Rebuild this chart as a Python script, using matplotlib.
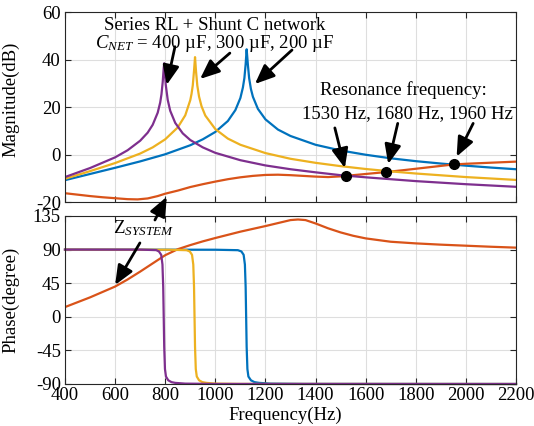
import numpy as np
import matplotlib
matplotlib.use('Agg')
import matplotlib.pyplot as plt

# ---------------- Données ----------------
# Amplitude (dB) des réseaux RL série + C shunt
f_400u = [400, 500, 600, 650, 700, 730, 750, 770, 780, 785, 790, 794, 796, 798, 802, 810, 820,
          840, 870, 900, 950, 1000, 1100, 1200, 1300, 1400, 1500, 1600, 1800, 2000, 2200]
mag_400u = [-9.5, -5.7, -1.2, 1.8, 5.8, 9.2, 12.5, 17.6, 21.9, 25.3, 30.5, 36.4, 38.4, 35.8, 29.5, 23.0, 18.4,
            13.3, 8.9, 6.1, 3.0, 0.7, -2.4, -4.6, -6.2, -7.5, -8.7, -9.6, -11.2, -12.5, -13.6]

f_300u = [400, 500, 600, 700, 750, 800, 850, 880, 900, 905, 910, 915, 919, 923, 928, 935, 945,
          960, 1000, 1050, 1100, 1200, 1300, 1400, 1500, 1600, 1700, 1800, 2000, 2200]
mag_300u = [-10.2, -7.0, -3.6, 0.4, 3.0, 6.4, 11.4, 16.5, 22.9, 25.5, 29.1, 35.3, 41.0, 35.0, 29.1, 24.4, 20.3,
            16.4, 10.7, 6.7, 4.1, 0.6, -1.8, -3.5, -4.9, -6.1, -7.1, -8.0, -9.5, -10.7]

f_200u = [400, 500, 600, 700, 800, 900, 950, 1000, 1050, 1080, 1100, 1110, 1116, 1121, 1125, 1130, 1135,
          1142, 1150, 1170, 1200, 1250, 1300, 1400, 1500, 1600, 1700, 1800, 1900, 2000, 2100, 2200]
mag_200u = [-10.8, -8.2, -5.6, -2.9, 0.1, 3.9, 6.4, 9.5, 14.1, 18.7, 23.8, 28.2, 32.2, 38.0, 44.3, 37.7, 32.1,
            27.6, 24.3, 19.2, 14.8, 10.5, 7.8, 4.1, 1.7, -0.1, -1.6, -2.8, -3.8, -4.7, -5.5, -6.2]

f_sys = [400, 450, 500, 550, 600, 650, 690, 730, 770, 800, 850, 900, 950, 1000, 1050, 1100, 1150, 1200,
         1250, 1300, 1350, 1400, 1450, 1500, 1550, 1600, 1680, 1750, 1800, 1900, 1950, 2000, 2100, 2200]
mag_sys = [-16.3, -16.9, -17.5, -18.0, -18.4, -18.8, -18.9, -18.5, -17.5, -16.5, -15.2, -13.7, -12.5, -11.4,
           -10.4, -9.6, -9.0, -8.6, -8.5, -8.7, -9.0, -9.3, -9.5, -9.2, -8.7, -8.2, -7.4, -6.6, -6.0, -4.8,
           -4.2, -3.9, -3.45, -3.0]

# Phase (degrés)
fp_400u = [400, 700, 764, 775, 784, 789, 792, 794, 796, 799, 803, 812, 825, 840, 880, 1000, 2200]
ph_400u = [90, 89.9, 89.3, 87.5, 83, 70, 40, 0, -40, -70, -80, -85, -87.5, -88.5, -89.5, -89.9, -90]
fp_300u = [400, 820, 885, 898, 907, 912, 915, 917, 919, 922, 926, 935, 948, 965, 1000, 1100, 2200]
ph_300u = [90, 89.8, 89.2, 87.5, 83, 70, 40, 0, -40, -70, -80, -85, -87.5, -88.5, -89.5, -89.9, -90]
fp_200u = [400, 1000, 1090, 1104, 1113, 1118, 1121, 1123, 1125, 1128, 1132, 1142, 1156, 1175, 1220, 1350, 2200]
ph_200u = [90, 89.8, 89.2, 87.5, 83, 70, 40, 0, -40, -70, -80, -85, -87.5, -88.5, -89.5, -89.9, -90]
fp_sys = [400, 500, 600, 650, 700, 750, 800, 850, 900, 950, 1000, 1100, 1200, 1250, 1300, 1330, 1360,
          1400, 1450, 1500, 1550, 1600, 1700, 1800, 1900, 2000, 2100, 2200]
ph_sys = [13, 26, 40.5, 50, 60.5, 71.5, 82.5, 90.5, 96, 101, 105.5, 114, 121.5, 125.5, 129.5, 130.3, 129.5,
          125, 118.5, 113, 108.5, 105, 100.5, 98.3, 96.6, 95.2, 93.8, 92.6]

# Fréquences de résonance (points noirs)
res_f = [1522, 1682, 1953]
res_mag = [-8.9, -7.3, -4.1]

c_blue, c_orange, c_yellow, c_purple = '#0072BD', '#D95319', '#EDB120', '#7E2F8E'

plt.rcParams['font.family'] = ['Liberation Serif', 'DejaVu Serif']
plt.rcParams['mathtext.fontset'] = 'custom'
plt.rcParams['mathtext.rm'] = 'Liberation Serif'
plt.rcParams['mathtext.it'] = 'Liberation Serif:italic'
fs = 13.5

fig = plt.figure(figsize=(5.34, 4.26), dpi=100, facecolor='white')
ax1 = fig.add_axes([0.1217, 0.5258, 0.8446, 0.446])
ax2 = fig.add_axes([0.1217, 0.0986, 0.8446, 0.3944])

lw = 1.6
ax1.plot(f_200u, mag_200u, color=c_blue, lw=lw)
ax1.plot(f_sys, mag_sys, color=c_orange, lw=lw)
ax1.plot(f_300u, mag_300u, color=c_yellow, lw=lw)
ax1.plot(f_400u, mag_400u, color=c_purple, lw=lw)
ax1.plot(res_f, res_mag, 'o', color='k', ms=7, zorder=5)

ax2.plot(fp_200u, ph_200u, color=c_blue, lw=lw, clip_on=False)
ax2.plot(fp_sys, ph_sys, color=c_orange, lw=lw)
ax2.plot(fp_300u, ph_300u, color=c_yellow, lw=lw, clip_on=False)
ax2.plot(fp_400u, ph_400u, color=c_purple, lw=lw, clip_on=False)

for ax in (ax1, ax2):
    ax.set_xlim(400, 2200)
    ax.set_xticks(np.arange(400, 2201, 200))
    ax.grid(True, color='#dedede', lw=0.8)
    ax.set_axisbelow(True)
    ax.tick_params(direction='in', top=True, right=True, length=4, width=0.8, pad=3,
                   labelsize=fs, colors='#262626', labelcolor='black')
    for sp in ax.spines.values():
        sp.set_color('#262626')
        sp.set_linewidth(0.8)

ax1.set_ylim(-20, 60)
ax1.set_yticks([-20, 0, 20, 40, 60])
ax1.set_yticklabels(['-20', '0', '20', '40', '60'])
ax1.tick_params(labelbottom=False)
ax1.set_ylabel('Magnitude(dB)', fontsize=fs)
ax1.yaxis.set_label_coords(-0.102, 0.54)

ax2.set_ylim(-90, 135)
ax2.set_yticks([-90, -45, 0, 45, 90, 135])
ax2.set_yticklabels(['-90', '-45', '0', '45', '90', '135'])
ax2.set_xticklabels([str(v) for v in range(400, 2201, 200)])
ax2.tick_params(axis='x', pad=2)
ax2.set_ylabel('Phase(degree)', fontsize=fs)
ax2.yaxis.set_label_coords(-0.102, 0.5)
ax2.set_xlabel('Frequency(Hz)', fontsize=fs)
ax2.xaxis.set_label_coords(0.489, -0.135)

# ---------------- Annotations ----------------
arr = dict(arrowstyle='-|>,head_length=0.9,head_width=0.38', lw=2.0, color='k',
           shrinkA=0, shrinkB=0, mutation_scale=13)

ax1.text(999, 54.5, 'Series RL + Shunt C network', ha='center', va='center', fontsize=fs)
ax1.text(999, 46.9, r'$C_{NET}$ = 400 µF, 300 µF, 200 µF', ha='center', va='center', fontsize=fs)
ax1.annotate('', xy=(806, 29.3), xytext=(839, 45.4), arrowprops=arr)
ax1.annotate('', xy=(939, 31.8), xytext=(1058, 42.7), arrowprops=arr)
ax1.annotate('', xy=(1158, 29.7), xytext=(1306, 44.0), arrowprops=arr)

ax1.text(1749, 27.2, 'Resonance frequency:', ha='center', va='center', fontsize=fs)
ax1.text(1765, 17.1, '1530 Hz, 1680 Hz, 1960 Hz', ha='center', va='center', fontsize=fs)
ax1.annotate('', xy=(1517, -5.7), xytext=(1477, 11.2), arrowprops=arr)
ax1.annotate('', xy=(1690, -4.0), xytext=(1728, 13.1), arrowprops=arr)
ax1.annotate('', xy=(1963, -0.9), xytext=(2029, 13.1), arrowprops=arr)

ax2.text(715, 118.5, r'$\mathrm{Z}_{SYSTEM}$', ha='center', va='center', fontsize=fs)
ax2.annotate('', xy=(806, -17.8), xycoords=ax1.transData, xytext=(759, 129.6),
             textcoords=ax2.transData, arrowprops=arr, annotation_clip=False)
ax2.annotate('', xy=(600, 42.6), xytext=(699, 98.9), arrowprops=arr)

fig.savefig('out.png', dpi=100, facecolor='white')
